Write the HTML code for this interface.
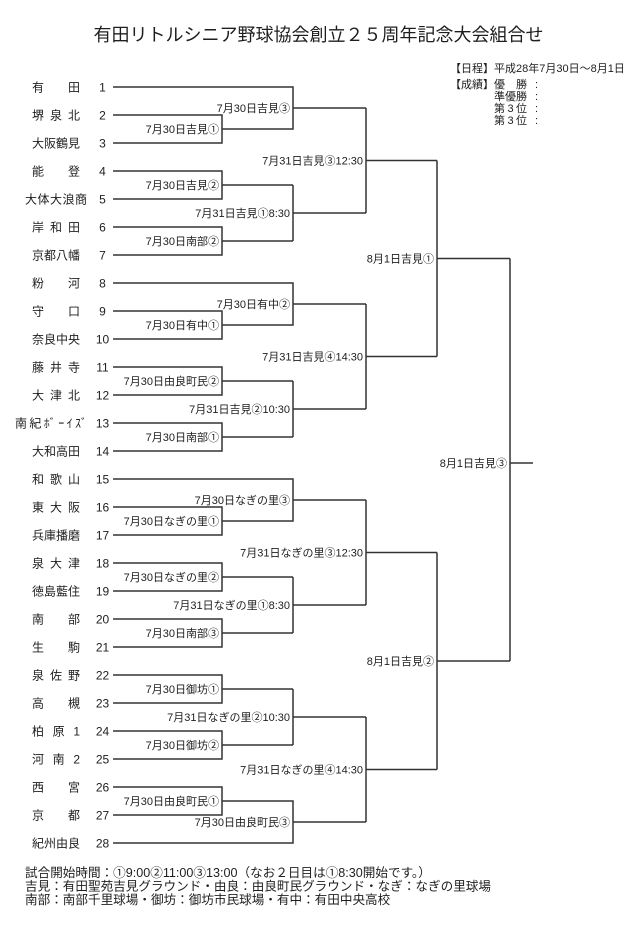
<!DOCTYPE html>
<html><head><meta charset="utf-8"><title>有田リトルシニア野球協会創立２５周年記念大会組合せ</title><style>
html,body{margin:0;padding:0;background:#fff;width:640px;height:925px;overflow:hidden}
svg{display:block}
text{font-family:"Liberation Sans","Noto Sans CJK JP",sans-serif;fill:#1e1e1e}
.n{font-size:12px}
.num{font-size:12px;text-anchor:middle}
.l{font-size:11px;text-anchor:end}
</style></head><body>
<svg width="640" height="925" viewBox="0 0 640 925" xmlns="http://www.w3.org/2000/svg">
<text x="318.5" y="41" font-size="18" text-anchor="middle">有田リトルシニア野球協会創立２５周年記念大会組合せ</text>

<text x="450" y="72" font-size="11">【日程】平成28年7月30日～8月1日</text>
<text x="450" y="88" font-size="11">【成績】</text>
<text x="494" y="88" font-size="11" textLength="33" lengthAdjust="spacing">優勝</text>
<text x="535" y="88" font-size="11">:</text>
<text x="494" y="100" font-size="11">準優勝</text>
<text x="535" y="100" font-size="11">:</text>
<text x="494" y="112" font-size="11" textLength="33" lengthAdjust="spacing">第3位</text>
<text x="535" y="112" font-size="11">:</text>
<text x="494" y="124" font-size="11" textLength="33" lengthAdjust="spacing">第3位</text>
<text x="535" y="124" font-size="11">:</text>

<g class="n">
<text x="32" y="91.5" textLength="48" lengthAdjust="spacing">有田</text>
<text x="32" y="119.5" textLength="48" lengthAdjust="spacing">堺泉北</text>
<text x="32" y="147.5" textLength="48" lengthAdjust="spacing">大阪鶴見</text>
<text x="32" y="175.5" textLength="48" lengthAdjust="spacing">能登</text>
<text x="25" y="203.5" textLength="62" lengthAdjust="spacing">大体大浪商</text>
<text x="32" y="231.5" textLength="48" lengthAdjust="spacing">岸和田</text>
<text x="32" y="259.5" textLength="48" lengthAdjust="spacing">京都八幡</text>
<text x="32" y="287.5" textLength="48" lengthAdjust="spacing">粉河</text>
<text x="32" y="315.5" textLength="48" lengthAdjust="spacing">守口</text>
<text x="32" y="343.5" textLength="48" lengthAdjust="spacing">奈良中央</text>
<text x="32" y="371.5" textLength="48" lengthAdjust="spacing">藤井寺</text>
<text x="32" y="399.5" textLength="48" lengthAdjust="spacing">大津北</text>
<text x="15" y="427.5" textLength="72" lengthAdjust="spacing">南紀ﾎﾞｰｲｽﾞ</text>
<text x="32" y="455.5" textLength="48" lengthAdjust="spacing">大和高田</text>
<text x="32" y="483.5" textLength="48" lengthAdjust="spacing">和歌山</text>
<text x="32" y="511.5" textLength="48" lengthAdjust="spacing">東大阪</text>
<text x="32" y="539.5" textLength="48" lengthAdjust="spacing">兵庫播磨</text>
<text x="32" y="567.5" textLength="48" lengthAdjust="spacing">泉大津</text>
<text x="32" y="595.5" textLength="48" lengthAdjust="spacing">徳島藍住</text>
<text x="32" y="623.5" textLength="48" lengthAdjust="spacing">南部</text>
<text x="32" y="651.5" textLength="48" lengthAdjust="spacing">生駒</text>
<text x="32" y="679.5" textLength="48" lengthAdjust="spacing">泉佐野</text>
<text x="32" y="707.5" textLength="48" lengthAdjust="spacing">高槻</text>
<text x="32" y="735.5" textLength="48" lengthAdjust="spacing">柏原1</text>
<text x="32" y="763.5" textLength="48" lengthAdjust="spacing">河南2</text>
<text x="32" y="791.5" textLength="48" lengthAdjust="spacing">西宮</text>
<text x="32" y="819.5" textLength="48" lengthAdjust="spacing">京都</text>
<text x="32" y="847.5" textLength="48" lengthAdjust="spacing">紀州由良</text>
</g>

<g class="num">
<text x="102.5" y="91.3">1</text>
<text x="102.5" y="119.3">2</text>
<text x="102.5" y="147.3">3</text>
<text x="102.5" y="175.3">4</text>
<text x="102.5" y="203.3">5</text>
<text x="102.5" y="231.3">6</text>
<text x="102.5" y="259.3">7</text>
<text x="102.5" y="287.3">8</text>
<text x="102.5" y="315.3">9</text>
<text x="102.5" y="343.3">10</text>
<text x="102.5" y="371.3">11</text>
<text x="102.5" y="399.3">12</text>
<text x="102.5" y="427.3">13</text>
<text x="102.5" y="455.3">14</text>
<text x="102.5" y="483.3">15</text>
<text x="102.5" y="511.3">16</text>
<text x="102.5" y="539.3">17</text>
<text x="102.5" y="567.3">18</text>
<text x="102.5" y="595.3">19</text>
<text x="102.5" y="623.3">20</text>
<text x="102.5" y="651.3">21</text>
<text x="102.5" y="679.3">22</text>
<text x="102.5" y="707.3">23</text>
<text x="102.5" y="735.3">24</text>
<text x="102.5" y="763.3">25</text>
<text x="102.5" y="791.3">26</text>
<text x="102.5" y="819.3">27</text>
<text x="102.5" y="847.3">28</text>
</g>

<g fill="none" stroke="#333" stroke-width="1.5">
<path d="M113 87H293V129H222"/>
<path d="M113 115H222V143H113"/>
<path d="M293 108H366"/>
<path d="M113 171H222V199H113"/>
<path d="M222 185H293"/>
<path d="M113 227H222V255H113"/>
<path d="M222 241H293"/>
<path d="M293 185V241"/>
<path d="M293 213H366"/>
<path d="M366 108V213"/>
<path d="M366 160.5H437"/>

<path d="M113 283H293V325H222"/>
<path d="M113 311H222V339H113"/>
<path d="M293 304H366"/>
<path d="M113 367H222V395H113"/>
<path d="M222 381H293"/>
<path d="M113 423H222V451H113"/>
<path d="M222 437H293"/>
<path d="M293 381V437"/>
<path d="M293 409H366"/>
<path d="M366 304V409"/>
<path d="M366 356.5H437"/>
<path d="M437 160.5V356.5"/>
<path d="M437 258.5H510"/>

<path d="M113 479H293V521H222"/>
<path d="M113 507H222V535H113"/>
<path d="M293 500H366"/>
<path d="M113 563H222V591H113"/>
<path d="M222 577H293"/>
<path d="M113 619H222V647H113"/>
<path d="M222 633H293"/>
<path d="M293 577V633"/>
<path d="M293 605H366"/>
<path d="M366 500V605"/>
<path d="M366 552.5H437"/>

<path d="M113 675H222V703H113"/>
<path d="M222 689H293"/>
<path d="M113 731H222V759H113"/>
<path d="M222 745H293"/>
<path d="M293 689V745"/>
<path d="M293 717H366"/>
<path d="M113 787H222V815H113"/>
<path d="M222 801H293V843H113"/>
<path d="M293 822H366"/>
<path d="M366 717V822"/>
<path d="M366 769.5H437"/>
<path d="M437 552.5V769.5"/>
<path d="M437 661H510"/>

<path d="M510 258.5V661"/>
<path d="M510 463H533"/>
</g>

<g class="l">
<text x="219" y="133">7月30日吉見①</text>
<text x="219" y="189">7月30日吉見②</text>
<text x="219" y="245">7月30日南部②</text>
<text x="219" y="329">7月30日有中①</text>
<text x="219" y="385">7月30日由良町民②</text>
<text x="219" y="441">7月30日南部①</text>
<text x="219" y="525">7月30日なぎの里①</text>
<text x="219" y="581">7月30日なぎの里②</text>
<text x="219" y="637">7月30日南部③</text>
<text x="219" y="693">7月30日御坊①</text>
<text x="219" y="749">7月30日御坊②</text>
<text x="219" y="805">7月30日由良町民①</text>

<text x="290" y="112">7月30日吉見③</text>
<text x="290" y="217">7月31日吉見①8:30</text>
<text x="290" y="308">7月30日有中②</text>
<text x="290" y="413">7月31日吉見②10:30</text>
<text x="290" y="504">7月30日なぎの里③</text>
<text x="290" y="609">7月31日なぎの里①8:30</text>
<text x="290" y="721">7月31日なぎの里②10:30</text>
<text x="290" y="826">7月30日由良町民③</text>

<text x="363" y="164.5">7月31日吉見③12:30</text>
<text x="363" y="360.5">7月31日吉見④14:30</text>
<text x="363" y="556.5">7月31日なぎの里③12:30</text>
<text x="363" y="773.5">7月31日なぎの里④14:30</text>

<text x="434" y="262.5">8月1日吉見①</text>
<text x="434" y="665">8月1日吉見②</text>

<text x="507" y="467">8月1日吉見③</text>
</g>

<text x="25" y="877" font-size="12.6">試合開始時間：①9:00②11:00③13:00（なお２日目は①8:30開始です。）</text>
<text x="25" y="890.5" font-size="12.6">吉見：有田聖苑吉見グラウンド・由良：由良町民グラウンド・なぎ：なぎの里球場</text>
<text x="25" y="904" font-size="12.6">南部：南部千里球場・御坊：御坊市民球場・有中：有田中央高校</text>
</svg>
</body></html>
